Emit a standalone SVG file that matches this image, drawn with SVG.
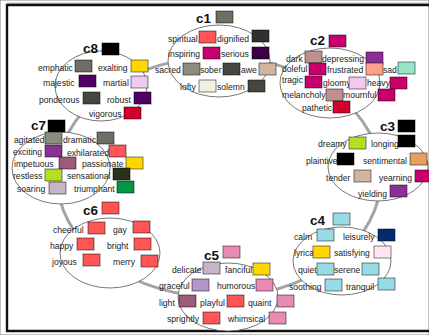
<svg xmlns="http://www.w3.org/2000/svg" width="429" height="335" viewBox="0 0 429 335">
<style>
text{font-family:"Liberation Sans",Arial,sans-serif;font-size:8.6px;fill:#222}
text.lb{font-size:13.5px;font-weight:bold;fill:#111}
rect{stroke:#000;stroke-opacity:0.55;stroke-width:0.9}
ellipse.cl{fill:#fff;stroke:#555;stroke-width:0.8}
.R{fill:#ff5555}.M{fill:#c8006e}.K{fill:#000}.DK{fill:#303030}.DG{fill:#464640}.G{fill:#8c8c80}.G2{fill:#6e6e64}
.T{fill:#d2b4a0}.CR{fill:#f0f0e0}.DP{fill:#3c0046}.DP2{fill:#500064}.P{fill:#8c3096}.RO{fill:#c09090}.SA{fill:#ffa08c}
.MI{fill:#96e6c8}.LP{fill:#f0c8f0}.CRM{fill:#d2002d}.YG{fill:#b4e11e}.OR{fill:#e6a064}.LB{fill:#96dce6}.NV{fill:#002d6e}
.GD{fill:#ffd700}.VLP{fill:#ffe6f0}.PK{fill:#e68cb4}.LG{fill:#c8b4c8}.LV{fill:#b496c8}.MV{fill:#a05a78}.OL{fill:#283214}.GR{fill:#009646}
</style>
<rect width="429" height="335" fill="#fff" stroke="none"/>
<line x1="7" y1="3.2" x2="429" y2="3.2" stroke="#999" stroke-width="1"/>
<path d="M429,5 H7 V331 H429" fill="none" stroke="#111" stroke-width="2.4"/>
<g id="connectors">
<ellipse cx="219" cy="177" rx="162" ry="120" fill="none" stroke="#a4a4a4" stroke-width="3"/>
</g>
<g id="c1">
<ellipse class="cl" cx="219" cy="61" rx="51" ry="36"/>
<text class="lb" x="196" y="23">c1</text><rect class="G2" x="216" y="11" width="17" height="12"/>
<text x="168" y="42">spiritual</text><rect class="R" x="199" y="31" width="17" height="12"/>
<text x="217" y="42">dignified</text><rect class="DK" x="252" y="30" width="17" height="12"/>
<text x="168" y="57">inspiring</text><rect class="M" x="203" y="47" width="17" height="12"/>
<text x="221" y="57">serious</text><rect class="DP" x="252" y="47" width="17" height="12"/>
<text x="155" y="73">sacred</text><rect class="G" x="183" y="63" width="17" height="12"/>
<text x="200" y="73">sober</text><rect class="DG" x="223" y="63" width="17" height="12"/>
<text x="241" y="73">awe</text><rect class="T" x="259" y="63" width="17" height="12"/>
<text x="180" y="90">lofty</text><rect class="CR" x="199" y="80" width="17" height="12"/>
<text x="217" y="90">solemn</text><rect class="DG" x="248" y="80" width="17" height="12"/>
</g>
<g id="c2">
<ellipse class="cl" cx="330" cy="83" rx="50" ry="35"/>
<text class="lb" x="310" y="45">c2</text><rect class="M" x="329" y="35" width="17" height="12"/>
<text x="286" y="62">dark</text><rect class="RO" x="305" y="51" width="17" height="12"/>
<text x="322" y="62">depressing</text><rect class="P" x="366" y="52" width="17" height="12"/>
<text x="282" y="72">doleful</text><rect class="M" x="309" y="63" width="17" height="12"/>
<text x="327" y="73">frustrated</text><rect class="SA" x="366" y="63" width="17" height="12"/>
<text x="383" y="73">sad</text><rect class="MI" x="398" y="62" width="17" height="12"/>
<text x="282" y="82.5">tragic</text><rect class="M" x="305" y="76" width="17" height="12"/>
<text x="323" y="86">gloomy</text><rect class="LP" x="349" y="77" width="17" height="12"/>
<text x="367" y="86">heavy</text><rect class="M" x="390" y="77" width="17" height="12"/>
<text x="282" y="98">melancholy</text><rect class="RO" x="326" y="89" width="17" height="12"/>
<text x="343" y="98">mournful</text><rect class="M" x="378" y="89" width="17" height="12"/>
<text x="302" y="111">pathetic</text><rect class="CRM" x="333" y="101" width="17" height="12"/>
</g>
<g id="c3">
<ellipse class="cl" cx="378" cy="167" rx="50" ry="34"/>
<text class="lb" x="380" y="131">c3</text><rect class="K" x="398" y="120" width="17" height="12"/>
<text x="318" y="147">dreamy</text><rect class="YG" x="349" y="137" width="17" height="12"/>
<text x="371" y="147">longing</text><rect class="K" x="398" y="135" width="17" height="12"/>
<text x="306" y="164">plaintive</text><rect class="K" x="337" y="153" width="17" height="12"/>
<text x="363" y="164">sentimental</text><rect class="OR" x="410" y="153" width="17" height="12"/>
<text x="326" y="181">tender</text><rect class="T" x="354" y="170" width="17" height="12"/>
<text x="379" y="181">yearning</text><rect class="M" x="415" y="170" width="17" height="12"/>
<text x="358" y="197">yielding</text><rect class="P" x="390" y="185" width="17" height="12"/>
</g>
<g id="c4">
<ellipse class="cl" cx="342" cy="261" rx="49" ry="34"/>
<text class="lb" x="310" y="225">c4</text><rect class="LB" x="333" y="213" width="17" height="12"/>
<text x="294" y="240">calm</text><rect class="LB" x="317" y="229" width="17" height="12"/>
<text x="343" y="240">leisurely</text><rect class="NV" x="378" y="229" width="17" height="12"/>
<text x="294" y="256">lyrical</text><rect class="GD" x="313" y="246" width="17" height="12"/>
<text x="334" y="256">satisfying</text><rect class="VLP" x="374" y="246" width="17" height="12"/>
<text x="298" y="273">quiet</text><rect class="LB" x="317" y="263" width="17" height="12"/>
<text x="334" y="273">serene</text><rect class="LB" x="362" y="263" width="17" height="12"/>
<text x="289" y="290">soothing</text><rect class="LB" x="325" y="279" width="17" height="12"/>
<text x="346" y="290">tranquil</text><rect class="LB" x="378" y="278" width="17" height="12"/>
</g>
<g id="c5">
<ellipse class="cl" cx="228" cy="297" rx="50" ry="34"/>
<text class="lb" x="204" y="260">c5</text><rect class="PK" x="223" y="246" width="17" height="12"/>
<text x="172" y="273">delicate</text><rect class="LG" x="203" y="262" width="17" height="12"/>
<text x="225" y="273">fanciful</text><rect class="GD" x="253" y="263" width="17" height="12"/>
<text x="159" y="289">graceful</text><rect class="LV" x="192" y="279" width="17" height="12"/>
<text x="217" y="289">humorous</text><rect class="PK" x="256" y="279" width="17" height="12"/>
<text x="159" y="306">light</text><rect class="MV" x="179" y="295" width="17" height="12"/>
<text x="200" y="306">playful</text><rect class="R" x="227" y="295" width="17" height="12"/>
<text x="248" y="306">quaint</text><rect class="PK" x="277" y="295" width="17" height="12"/>
<text x="167" y="322">sprightly</text><rect class="R" x="203" y="312" width="17" height="12"/>
<text x="228" y="322">whimsical</text><rect class="PK" x="269" y="312" width="17" height="12"/>
</g>
<g id="c6">
<ellipse class="cl" cx="110" cy="253" rx="50" ry="35"/>
<text class="lb" x="83" y="215">c6</text><rect class="R" x="102" y="202" width="17" height="12"/>
<text x="53" y="233">cheerful</text><rect class="R" x="88" y="222" width="17" height="12"/>
<text x="113" y="233">gay</text><rect class="R" x="133" y="221" width="17" height="12"/>
<text x="50" y="249">happy</text><rect class="R" x="77" y="238" width="17" height="12"/>
<text x="107" y="249">bright</text><rect class="R" x="134" y="238" width="17" height="12"/>
<text x="52" y="265">joyous</text><rect class="R" x="83" y="254" width="17" height="12"/>
<text x="113" y="265">merry</text><rect class="R" x="141" y="255" width="17" height="12"/>
</g>
<g id="c7">
<ellipse class="cl" cx="61" cy="168" rx="49" ry="36"/>
<text class="lb" x="31" y="130">c7</text><rect class="K" x="48" y="120" width="17" height="12"/>
<text x="14" y="143">agitated</text><rect class="G" x="45" y="132" width="17" height="12"/>
<text x="63" y="143">dramatic</text><rect class="G2" x="97" y="132" width="17" height="12"/>
<text x="13" y="155">exciting</text><rect class="P" x="45" y="145" width="17" height="12"/>
<text x="67" y="156">exhilarated</text><rect class="R" x="109" y="145" width="17" height="12"/>
<text x="14" y="167">impetuous</text><rect class="MV" x="59" y="157" width="17" height="12"/>
<text x="82" y="167">passionate</text><rect class="GD" x="126" y="157" width="17" height="12"/>
<text x="13" y="179">restless</text><rect class="YG" x="45" y="169" width="17" height="12"/>
<text x="67" y="179">sensational</text><rect class="OL" x="113" y="168" width="17" height="12"/>
<text x="17" y="192">soaring</text><rect class="LG" x="49" y="182" width="17" height="12"/>
<text x="74" y="192">triumphant</text><rect class="GR" x="117" y="181" width="17" height="12"/>
</g>
<g id="c8">
<ellipse class="cl" cx="101" cy="86" rx="46" ry="35"/>
<text class="lb" x="83" y="53">c8</text><rect class="K" x="102" y="43" width="17" height="12"/>
<text x="38" y="71">emphatic</text><rect class="G2" x="75" y="60" width="17" height="12"/>
<text x="98" y="71">exalting</text><rect class="GD" x="131" y="60" width="17" height="12"/>
<text x="43" y="86">majestic</text><rect class="DP2" x="79" y="75" width="17" height="12"/>
<text x="103" y="86">martial</text><rect class="LP" x="131" y="76" width="17" height="12"/>
<text x="39" y="103">ponderous</text><rect class="DG" x="83" y="92" width="17" height="12"/>
<text x="107" y="103">robust</text><rect class="DP2" x="134" y="92" width="17" height="12"/>
<text x="89" y="117">vigorous</text><rect class="CRM" x="124" y="107" width="17" height="12"/>
</g>
</svg>
